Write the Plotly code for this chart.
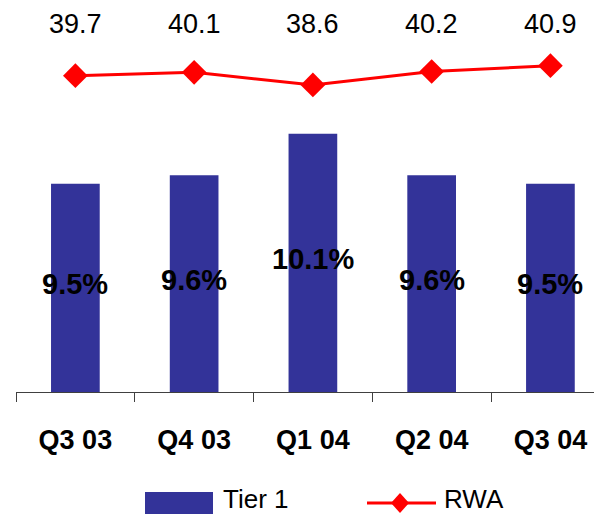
import plotly.graph_objects as go

# Quarterly capital figures
quarters = ["Q3 03", "Q4 03", "Q1 04", "Q2 04", "Q3 04"]
tier1 = [9.5, 9.6, 10.1, 9.6, 9.5]      # Tier 1 ratio, %
rwa = [39.7, 40.1, 38.6, 40.2, 40.9]     # risk-weighted assets

BAR = "#333399"
RED = "#FF0000"
FONT = "Liberation Sans, Arial, sans-serif"

W, H = 594, 514
L, R, T, B = 16, 0, 0, 122
plot_w = W - L - R
plot_h = H - T - B
Y_BASE = 7

def px(x):
    return (x - L) / plot_w


def py(y):
    return (H - B - y) / plot_h


fig = go.Figure()

fig.add_trace(go.Bar(
    x=quarters, y=tier1, name="Tier 1",
    marker=dict(color=BAR, line=dict(width=0)),
    width=0.41,
    yaxis="y",
))

fig.add_trace(go.Scatter(
    x=quarters, y=rwa, name="RWA", mode="lines+markers",
    line=dict(color=RED, width=3),
    marker=dict(symbol="diamond", size=19, color=RED),
    yaxis="y2", cliponaxis=False,
))

# Tier 1 ratio centred on each bar
for q, v in zip(quarters, tier1):
    fig.add_annotation(x=q, y=(Y_BASE + v) / 2, xref="x", yref="y",
                       text=f"{v}%", showarrow=False, yanchor="middle", yshift=4,
                       font=dict(family=FONT, size=29, color="black", weight="bold"))

# RWA values written along the top
for q, v in zip(quarters, rwa):
    fig.add_annotation(x=q, y=py(24), xref="x", yref="paper",
                       text=f"{v}", showarrow=False, yanchor="middle",
                       font=dict(family=FONT, size=27, color="black"))

# Legend drawn by hand with wide swatches
shapes = [
    dict(type="rect", xref="paper", yref="paper",
         x0=px(145), x1=px(213), y0=py(492), y1=py(516),
         fillcolor=BAR, line=dict(width=0)),
    dict(type="line", xref="paper", yref="paper",
         x0=px(367), x1=px(436), y0=py(503), y1=py(503),
         line=dict(color=RED, width=3)),
]
cx, cy, hw, hh = 400, 503, 9, 10
shapes.append(dict(
    type="path", xref="paper", yref="paper",
    path=f"M {px(cx - hw)},{py(cy)} L {px(cx)},{py(cy - hh)} "
         f"L {px(cx + hw)},{py(cy)} L {px(cx)},{py(cy + hh)} Z",
    fillcolor=RED, line=dict(width=0)))
fig.add_annotation(x=px(221), y=py(499), xref="paper", yref="paper",
                   text="Tier 1", showarrow=False, xanchor="left", yanchor="middle",
                   font=dict(family=FONT, size=26, color="black"))
fig.add_annotation(x=px(442), y=py(499), xref="paper", yref="paper",
                   text="RWA", showarrow=False, xanchor="left", yanchor="middle",
                   font=dict(family=FONT, size=26, color="black"))

fig.update_layout(
    width=W, height=H,
    margin=dict(l=L, r=R, t=T, b=B),
    paper_bgcolor="white", plot_bgcolor="white",
    showlegend=False,
    shapes=shapes,
    xaxis=dict(type="category", range=[-0.5, 4.367],
               showline=True, linecolor="#404040", linewidth=1,
               ticks="outside", ticklen=9, tickcolor="#404040", tickwidth=1,
               tickson="boundaries", showgrid=False, zeroline=False,
               ticklabelstandoff=24,
               tickfont=dict(family=FONT, size=27, color="black", weight="bold")),
    xaxis2=dict(overlaying="x", range=[-0.5, 4.367], anchor="y",
                tickvals=[-0.5, 0.5, 1.5, 2.5, 3.5],
                ticks="inside", ticklen=9, tickcolor="#404040", tickwidth=1,
                showticklabels=False, showgrid=False, zeroline=False, showline=False),
    yaxis=dict(range=[Y_BASE, Y_BASE + plot_h / 83.33], visible=False),
    yaxis2=dict(range=[2, 2 + plot_h / 8.39], overlaying="y", visible=False),
)

fig.write_html("out.html")
